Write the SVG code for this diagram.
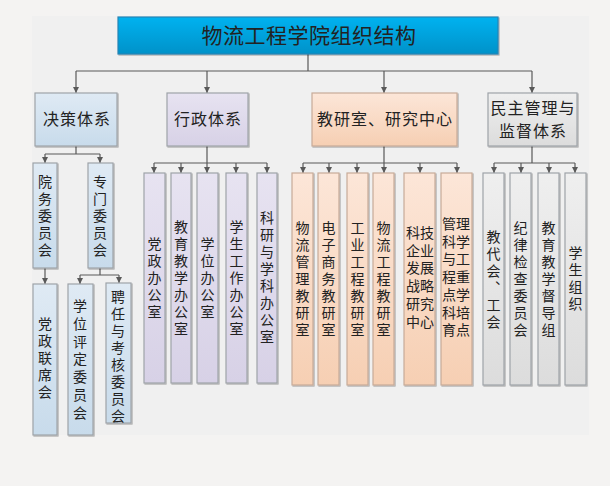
<svg xmlns="http://www.w3.org/2000/svg" width="610" height="486" viewBox="0 0 610 486">
<defs>
<linearGradient id="gTitle" x1="0" y1="0" x2="0" y2="1"><stop offset="0" stop-color="#00b2f0"/><stop offset="1" stop-color="#0092c9"/></linearGradient>
<linearGradient id="gBlue" x1="0" y1="0" x2="0" y2="1"><stop offset="0" stop-color="#dfeaf4"/><stop offset="1" stop-color="#c8dbeb"/></linearGradient>
<linearGradient id="gPurple" x1="0" y1="0" x2="0" y2="1"><stop offset="0" stop-color="#e7e3f1"/><stop offset="1" stop-color="#d7d1e6"/></linearGradient>
<linearGradient id="gOrange" x1="0" y1="0" x2="0" y2="1"><stop offset="0" stop-color="#fce6d8"/><stop offset="1" stop-color="#f6cfb3"/></linearGradient>
<linearGradient id="gGray" x1="0" y1="0" x2="0" y2="1"><stop offset="0" stop-color="#efefef"/><stop offset="1" stop-color="#dcdcdc"/></linearGradient>
<filter id="sh" x="-20%" y="-20%" width="140%" height="140%"><feDropShadow dx="1" dy="1" stdDeviation="0.7" flood-color="#000" flood-opacity="0.3"/></filter>
<marker id="arr" markerUnits="userSpaceOnUse" markerWidth="7" markerHeight="7" refX="6" refY="3" orient="auto"><path d="M0,0 L6,3 L0,6 z" fill="#595959"/></marker>
</defs>
<style>
.box{stroke:#9ea3a8;stroke-width:1.2;filter:url(#sh)}
.b{fill:url(#gBlue)}
.p{fill:url(#gPurple)}
.o{fill:url(#gOrange);stroke:#c7ab98}
.g{fill:url(#gGray)}
.t{font-family:"Noto Sans CJK SC","Noto Sans CJK JP",sans-serif;fill:#222;text-anchor:middle}
.t2{font-family:"Liberation Sans","Noto Sans CJK SC",sans-serif;fill:#222;text-anchor:middle;font-size:14px}
.l1{font-size:16px;letter-spacing:1px}
.v{font-size:14px;writing-mode:vertical-rl;letter-spacing:3px}
.v2{letter-spacing:3.7px}
.c{fill:none;stroke:#595959;stroke-width:1.2}
.ca{fill:none;stroke:#595959;stroke-width:1.2;marker-end:url(#arr)}
</style>
<rect width="610" height="486" fill="#f4f3f2"/>
<rect x="32" y="16" width="557" height="419" fill="#f0f0f0"/>

<g id="connectors">
<path class="c" d="M308,54 V71 M76,71 H532"/>
<path class="ca" d="M76,71 V93"/>
<path class="ca" d="M207,71 V93"/>
<path class="ca" d="M384,71 V93"/>
<path class="ca" d="M532,71 V93"/>
<path class="c" d="M76,146 V154 M45,154 H100"/>
<path class="ca" d="M45,154 V163"/>
<path class="ca" d="M100,154 V163"/>
<path class="ca" d="M45,268 V284"/>
<path class="c" d="M100,268 V275 M80,275 H119"/>
<path class="ca" d="M80,275 V284"/>
<path class="ca" d="M119,275 V283"/>
<path class="c" d="M207,146 V163 M154,163 H267"/>
<path class="ca" d="M154,163 V173"/>
<path class="ca" d="M181,163 V173"/>
<path class="ca" d="M207,163 V173"/>
<path class="ca" d="M236,163 V173"/>
<path class="ca" d="M267,163 V173"/>
<path class="c" d="M384,146 V163 M303,163 H457"/>
<path class="ca" d="M303,163 V173"/>
<path class="ca" d="M329,163 V173"/>
<path class="ca" d="M357,163 V173"/>
<path class="ca" d="M384,163 V173"/>
<path class="ca" d="M420,163 V173"/>
<path class="ca" d="M457,163 V173"/>
<path class="c" d="M532,146 V163 M494,163 H575"/>
<path class="ca" d="M494,163 V173"/>
<path class="ca" d="M521,163 V173"/>
<path class="ca" d="M549,163 V173"/>
<path class="ca" d="M575,163 V173"/>
</g>

<g id="title">
<rect x="118" y="17" width="380" height="37" fill="url(#gTitle)" stroke="#2a84b4" stroke-width="1.2" filter="url(#sh)"/>
<text class="t" x="309" y="43" font-size="21" letter-spacing="0.5">物流工程学院组织结构</text>
</g>

<g id="n-juece"><rect class="box b" x="35" y="93" width="82" height="53"/><text class="t l1" x="77" y="125">决策体系</text></g>
<g id="n-xingzheng"><rect class="box p" x="167" y="93" width="81" height="53"/><text class="t l1" x="208" y="125">行政体系</text></g>
<g id="n-jiaoyan"><rect class="box o" x="312" y="93" width="145" height="53"/><text class="t l1" x="385" y="125">教研室、研究中心</text></g>
<g id="n-minzhu"><rect class="box g" x="488" y="93" width="89" height="53"/><text class="t l1" x="533" y="114">民主管理与</text><text class="t l1" x="533" y="137">监督体系</text></g>

<g id="n-yuanwu"><rect class="box b" x="33" y="163" width="24" height="105"/><text class="t v" x="45" y="217">院务委员会</text></g>
<g id="n-zhuanmen"><rect class="box b" x="88" y="163" width="25" height="105"/><text class="t v" x="100" y="217">专门委员会</text></g>
<g id="n-dangzhenglianxi"><rect class="box b" x="33" y="284" width="24" height="151"/><text class="t v" x="45" y="359" letter-spacing="4">党政联席会</text></g>
<g id="n-xuewei"><rect class="box b" x="68" y="284" width="25" height="151"/><text class="t v v2" x="80" y="361">学位评定委员会</text></g>
<g id="n-pinren"><rect class="box b" x="106" y="283" width="25" height="140"/><text class="t v" x="118" y="358">聘任与考核委员会</text></g>

<g id="n-dangzhengban"><rect class="box p" x="144" y="173" width="21" height="210"/><text class="t v" x="154.5" y="279">党政办公室</text></g>
<g id="n-jiaoyuban"><rect class="box p" x="171" y="173" width="20" height="210"/><text class="t v" x="181" y="279">教育教学办公室</text></g>
<g id="n-xueweiban"><rect class="box p" x="197" y="173" width="21" height="210"/><text class="t v" x="207.5" y="279">学位办公室</text></g>
<g id="n-xueshengban"><rect class="box p" x="226" y="173" width="21" height="210"/><text class="t v" x="236.5" y="279">学生工作办公室</text></g>
<g id="n-keyanban"><rect class="box p" x="257" y="173" width="20" height="210"/><text class="t v" x="267" y="279">科研与学科办公室</text></g>

<g id="n-wuliuguanli"><rect class="box o" x="292" y="173" width="21" height="212"/><text class="t v" x="302.5" y="280">物流管理教研室</text></g>
<g id="n-dianzishangwu"><rect class="box o" x="318" y="173" width="21" height="212"/><text class="t v" x="328.5" y="280">电子商务教研室</text></g>
<g id="n-gongyegongcheng"><rect class="box o" x="347" y="173" width="21" height="212"/><text class="t v" x="357.5" y="280">工业工程教研室</text></g>
<g id="n-wuliugongcheng"><rect class="box o" x="373" y="173" width="21" height="212"/><text class="t v" x="383.5" y="280">物流工程教研室</text></g>
<g id="n-keji"><rect class="box o" x="404" y="173" width="31" height="212"/>
<text class="t2" x="420" y="238"><tspan x="420">科技</tspan><tspan x="420" dy="17.7">企业</tspan><tspan x="420" dy="17.7">发展</tspan><tspan x="420" dy="17.7">战略</tspan><tspan x="420" dy="17.7">研究</tspan><tspan x="420" dy="17.7">中心</tspan></text></g>
<g id="n-guanlikexue"><rect class="box o" x="441" y="173" width="31" height="212"/>
<text class="t2" x="456" y="229"><tspan x="456">管理</tspan><tspan x="456" dy="17.7">科学</tspan><tspan x="456" dy="17.7">与工</tspan><tspan x="456" dy="17.7">程重</tspan><tspan x="456" dy="17.7">点学</tspan><tspan x="456" dy="17.7">科培</tspan><tspan x="456" dy="17.7">育点</tspan></text></g>

<g id="n-jiaodaihui"><rect class="box g" x="483" y="173" width="21" height="212"/><text class="t v" x="493.5" y="281">教代会、工会</text></g>
<g id="n-jilvjiancha"><rect class="box g" x="510" y="173" width="21" height="212"/><text class="t v" x="520.5" y="280">纪律检查委员会</text></g>
<g id="n-dudao"><rect class="box g" x="538" y="173" width="21" height="212"/><text class="t v" x="548.5" y="280">教育教学督导组</text></g>
<g id="n-xueshengzuzhi"><rect class="box g" x="565" y="173" width="21" height="212"/><text class="t v" x="575.5" y="280">学生组织</text></g>
</svg>
